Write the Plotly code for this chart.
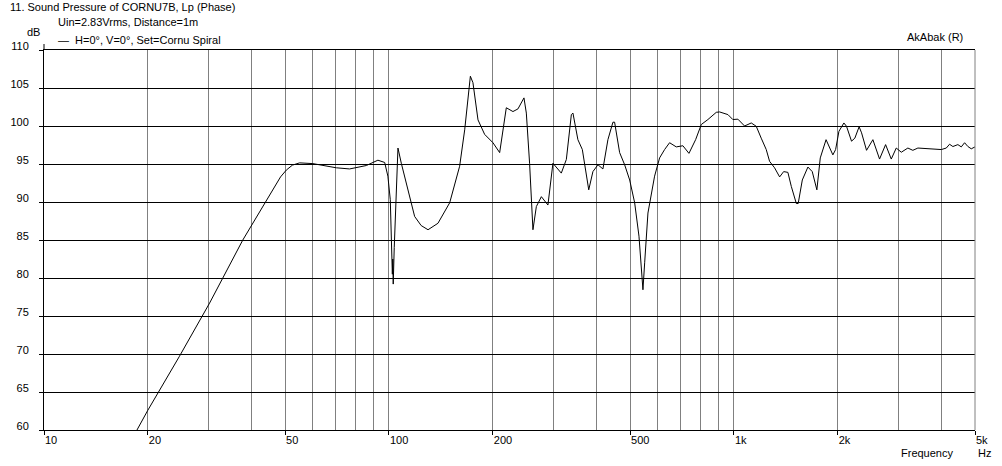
import plotly.graph_objects as go

# ---- data ----
freq_hz = [18.6, 20, 24.7, 30.2, 37.7, 40.3, 44.1, 46.0, 48.5, 50.4, 52.5, 55.1, 60.2, 70.4, 76.9, 86,
           92.9, 97.2,
           99.3, 100.9, 101.6, 102.3, 102.6, 102.9, 103.6, 104.6, 106.2, 108.6, 113.5, 118.7, 124,
           129.8, 138.7, 150, 160.3, 165.8, 172.2, 175.2, 181.2, 189.4, 200.2, 209.4, 218.9, 228.8,
           236.6, 246.3, 250.2, 255.7, 261.5, 267.5, 276.6, 289, 298.8, 316, 326.8, 337.9, 341.5,
           353, 363.6, 379.5, 390.2, 403.5, 417.2, 431.3, 446, 451, 466.4, 482.3, 498.7, 515.6,
           530.7, 540.3, 544.9, 551.2, 563.4, 589, 609, 629.7, 651, 680.7, 711.5, 740.8, 774.5,
           804.6, 840.8, 889, 909, 961, 993, 1027, 1074, 1123, 1161, 1200, 1241, 1269, 1312, 1357,
           1394, 1434, 1467, 1517, 1536, 1579, 1639, 1687, 1740, 1780, 1850, 1936, 1972, 2016,
           2084, 2121, 2193, 2242, 2307, 2345, 2424, 2529, 2644, 2753, 2859, 2956, 3057, 3194,
           3302, 3415, 3612, 3816, 3993, 4128, 4219, 4313, 4460, 4562, 4664, 4769, 4877, 5000]
spl_db = [60.0, 62.6, 69.7, 76.7, 85.0, 87.2, 90.3, 91.7, 93.3, 94.2, 94.85, 95.15, 95.05, 94.5, 94.35, 94.8,
          95.5, 95.2,
          93.4, 90.3, 85.0, 80.5, 82.5, 79.2, 84.0, 90.3, 97.1, 95.1, 91.6, 88.1, 86.9,
          86.35, 87.2, 89.9, 94.7, 99.5, 106.55, 105.7, 100.8, 98.9, 97.8, 96.5, 102.4, 101.9,
          102.25, 103.7, 101.7, 95.1, 86.35, 89.4, 90.7, 89.6, 95.1, 93.8, 95.6, 101.5, 101.7,
          98.2, 96.9, 91.6, 94.0, 94.9, 94.35, 98.2, 100.5, 100.5, 96.5, 94.9, 92.9, 89.9,
          85.5, 79.8, 78.45, 82.0, 88.55, 93.4, 95.8, 96.9, 97.8, 97.25, 97.4, 96.4, 98.2,
          100.2, 100.85, 101.8, 101.85, 101.5, 100.85, 100.9, 100.0, 100.4, 99.96, 98.4, 96.9, 95.35, 94.5, 93.3,
          94.0, 93.9, 92.05, 89.8, 89.8, 92.9, 94.6, 94.0, 91.6, 95.8, 98.2, 96.2, 96.9, 99.3,
          100.4, 99.96, 98.0, 98.4, 99.9, 99.1, 96.8, 98.2, 95.65, 97.55, 95.65, 97.1, 96.55, 97.1,
          96.8, 97.1, 97.0, 96.9, 96.9, 97.1, 97.6, 97.3, 97.55, 97.25, 97.8, 97.3, 97.0, 97.25]

major_ticks = [10, 20, 50, 100, 200, 500, 1000, 2000, 5000]
major_text = ["10", "20", "50", "100", "200", "500", "1k", "2k", "5k"]
minor_ticks = [30, 40, 60, 70, 80, 90, 300, 400, 600, 700, 800, 900, 3000, 4000]
y_ticks = [60, 65, 70, 75, 80, 85, 90, 95, 100, 105, 110]

FONT = "Liberation Sans"
W, H = 1002, 466
ML, MR, MT, MB = 44, 27, 50, 36
PW, PH = W - ML - MR, H - MT - MB


def px(xp):
    return (xp - ML) / PW


def py(yp):
    return (H - MB - yp) / PH


fig = go.Figure()
fig.add_trace(go.Scatter(x=freq_hz, y=spl_db, mode="lines",
                         line=dict(color="black", width=1),
                         name="H=0°, V=0°, Set=Cornu Spiral", showlegend=False,
                         hoverinfo="skip"))

fig.update_layout(
    width=W, height=H, autosize=False,
    margin=dict(l=ML, r=MR, t=MT, b=MB, pad=0),
    paper_bgcolor="white", plot_bgcolor="white",
    font=dict(family=FONT, size=11, color="black"),
    xaxis=dict(type="log", range=[1, 3.69897], tickvals=major_ticks, ticktext=major_text,
               showgrid=True, gridcolor="#808080", gridwidth=1,
               showline=True, linecolor="black", linewidth=1, mirror=True,
               ticks="outside", ticklen=4, tickcolor="black",
               ticklabelposition="outside right", tickfont=dict(family=FONT, size=11),
               minor=dict(tickvals=minor_ticks, showgrid=True, gridcolor="#808080",
                          gridwidth=1, ticks=""),
               zeroline=False, fixedrange=True, automargin=False),
    yaxis=dict(range=[60, 110], tickvals=y_ticks,
               showgrid=True, gridcolor="black", gridwidth=1,
               showline=True, linecolor="black", linewidth=1,
               ticks="outside", ticklen=4, tickcolor="black",
               ticklabelposition="outside", ticklabelstandoff=8, ticklabelshift=-4,
               tickfont=dict(family=FONT, size=11),
               zeroline=False, fixedrange=True, automargin=False),
    shapes=[
        dict(type="line", xref="x domain", yref="y domain", x0=1, x1=1, y0=0, y1=1,
             line=dict(color="#808080", width=1)),
        dict(type="line", xref="x domain", yref="y domain", x0=0, x1=0, y0=1, y1=1 + 6 / PH,
             line=dict(color="black", width=1)),
    ],
)

texts = [
    ("11. Sound Pressure of CORNU7B, Lp (Phase)", 8, 7),
    ("Uin=2.83Vrms, Distance=1m", 56, 22),
    ("dB", 25, 32),
    ("—  H=0°, V=0°, Set=Cornu Spiral", 56, 40),
    ("AkAbak (R)", 905, 37),
    ("Frequency", 899, 453),
    ("Hz", 976, 453),
]
for t, x0, y0 in texts:
    fig.add_annotation(text=t, x=px(x0), y=py(y0), xref="paper", yref="paper",
                       xanchor="left", yanchor="middle", showarrow=False,
                       font=dict(family=FONT, size=11, color="black"))

fig.write_html("out.html", config={"displayModeBar": False},
               post_script="document.body.style.margin='0';")
